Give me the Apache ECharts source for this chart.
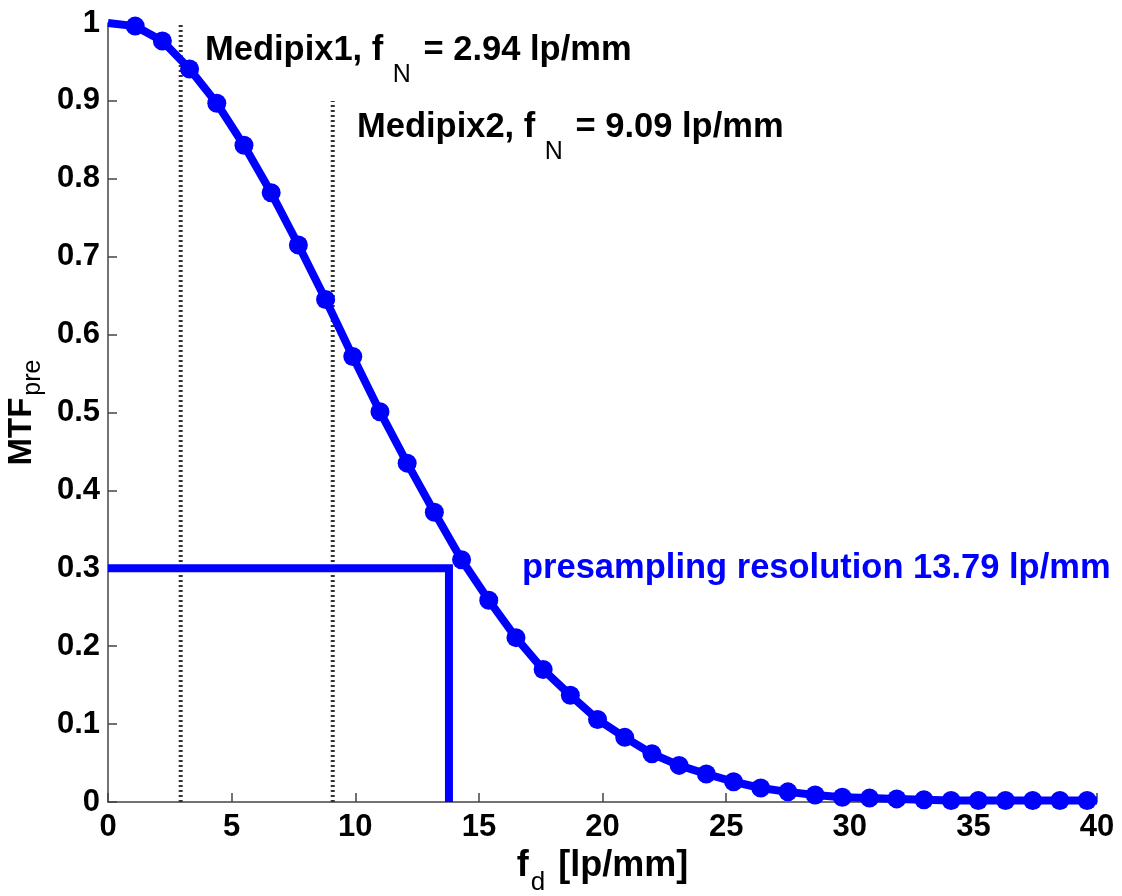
<!DOCTYPE html>
<html>
<head>
<meta charset="utf-8">
<script src="https://cdn.jsdelivr.net/npm/echarts@6/dist/echarts.min.js"></script>
<style>
  html, body { margin: 0; padding: 0; background: #fff; }
  #root { width: 1122px; height: 896px; }
</style>
</head>
<body>
<div id="root"></div>
<script>
// spatial frequency of each measured point [lp/mm]
var freq = [1.1, 2.2, 3.3, 4.4, 5.5, 6.6, 7.7, 8.8, 9.9, 11.0, 12.1, 13.2,
  14.3, 15.4, 16.5, 17.6, 18.7, 19.8, 20.9, 22.0, 23.1, 24.2, 25.3, 26.4,
  27.5, 28.6, 29.7, 30.8, 31.9, 33.0, 34.1, 35.2, 36.3, 37.4, 38.5, 39.6];
// presampling MTF
var mtf = [0.996, 0.977, 0.941, 0.897, 0.843, 0.782, 0.715, 0.645, 0.572, 0.501, 0.435, 0.372,
  0.311, 0.259, 0.211, 0.170, 0.137, 0.106, 0.083, 0.062, 0.047, 0.036, 0.026, 0.018,
  0.013, 0.009, 0.006, 0.005, 0.004, 0.003, 0.002, 0.002, 0.002, 0.002, 0.002, 0.002];
// curve ends (no marker drawn there)
var curveStart = [0, 1];
var curveEnd = [40, 0.002];

// Nyquist frequencies of the two detectors and top of their guide lines
var nyquist1 = [2.94, 1.0];
var nyquist2 = [9.09, 0.9];
// 0.3 MTF level and where it is reached
var mtfLevel = 0.3;
var resolution = 13.79;

var xTicks = [0, 5, 10, 15, 20, 25, 30, 35, 40];
var yTicks = [0, 0.1, 0.2, 0.3, 0.4, 0.5, 0.6, 0.7, 0.8, 0.9, 1];

var FONT = '"Liberation Sans", Arial, sans-serif';

var curveData = [{value: curveStart, symbol: 'none'}];
freq.forEach(function(f, i) {
  curveData.push([f, mtf[i]]);
});
curveData.push({value: curveEnd, symbol: 'none'});

function guide(n) {
  return {
    type: 'line',
    data: [[n[0], 0], [n[0], n[1]]],
    symbol: 'none',
    silent: true,
    z: 1,
    lineStyle: {color: '#333', width: 4, type: [2, 3]}
  };
}

// rich text styles for "f_N" style subscripts
function subRich(size, subSize, pad, colorKey) {
  var a = {fontFamily: FONT, fontWeight: 'bold', fontSize: size, verticalAlign: 'top'};
  var s = {fontFamily: FONT, fontSize: subSize, verticalAlign: 'top', padding: pad};
  a[colorKey] = '#000';
  s[colorKey] = '#000';
  return {a: a, s: s};
}

var option = {
  backgroundColor: '#fff',
  animation: false,
  grid: {left: 108, right: 25, top: 23, bottom: 94, outerBoundsMode: 'none', containLabel: false},
  xAxis: {
    type: 'value',
    min: 0,
    max: 40,
    interval: 5,
    name: '{a|f}{s|d}{a| [lp/mm]}',
    nameLocation: 'middle',
    nameGap: 42,
    nameTextStyle: {rich: subRich(36, 26, [22, 3, 0, 2], 'color')},
    axisLine: {show: true, lineStyle: {color: '#444', width: 1.5}},
    axisTick: {show: true, inside: true, length: 9, lineStyle: {color: '#444', width: 1.5}},
    splitLine: {show: false},
    axisLabel: {
      margin: 10,
      fontFamily: FONT,
      fontWeight: 'bold',
      fontSize: 31,
      color: '#000',
      formatter: function(v) {
        return xTicks.indexOf(v) >= 0 ? String(v) : '';
      }
    }
  },
  yAxis: {
    type: 'value',
    min: 0,
    max: 1,
    interval: 0.1,
    name: '{a|MTF}{s|pre}',
    nameLocation: 'middle',
    nameRotate: 90,
    nameGap: 56,
    nameTextStyle: {rich: subRich(33, 25, [16, 0, 0, 2], 'color')},
    axisLine: {show: true, lineStyle: {color: '#444', width: 1.5}},
    axisTick: {show: true, inside: true, length: 9, lineStyle: {color: '#444', width: 1.5}},
    splitLine: {show: false},
    axisLabel: {
      margin: 8,
      fontFamily: FONT,
      fontWeight: 'bold',
      fontSize: 31,
      color: '#000',
      formatter: function(v) {
        var r = Math.round(v * 10) / 10;
        return yTicks.indexOf(r) >= 0 ? String(r) : '';
      }
    }
  },
  series: [
    guide(nyquist1),
    guide(nyquist2),
    {
      // resolution marker: 0.3 level across, then down to the axis
      type: 'line',
      data: [[0, mtfLevel], [resolution, mtfLevel], [resolution, 0]],
      symbol: 'none',
      silent: true,
      z: 2,
      lineStyle: {color: '#0000ff', width: 8, cap: 'butt', join: 'miter'}
    },
    {
      type: 'line',
      data: curveData,
      symbol: 'circle',
      symbolSize: 19,
      showAllSymbol: true,
      silent: true,
      z: 3,
      itemStyle: {color: '#0000ff'},
      lineStyle: {color: '#0000ff', width: 8}
    }
  ],
  graphic: [
    {
      type: 'text',
      left: 205,
      top: 33,
      style: {
        text: '{a|Medipix1, f }{s|N}{a| = 2.94 lp/mm}',
        rich: subRich(34.5, 25, [30, 3, 0, 0], 'fill')
      }
    },
    {
      type: 'text',
      left: 357,
      top: 110,
      style: {
        text: '{a|Medipix2, f }{s|N}{a| = 9.09 lp/mm}',
        rich: subRich(34.5, 25, [30, 3, 0, 0], 'fill')
      }
    },
    {
      type: 'text',
      left: 522,
      top: 551,
      style: {
        text: 'presampling resolution 13.79 lp/mm',
        fontFamily: FONT,
        fontWeight: 'bold',
        fontSize: 34.5,
        fill: '#0000ff'
      }
    }
  ]
};

var myChart = echarts.init(document.getElementById('root'));
myChart.setOption(option);
</script>
</body>
</html>
